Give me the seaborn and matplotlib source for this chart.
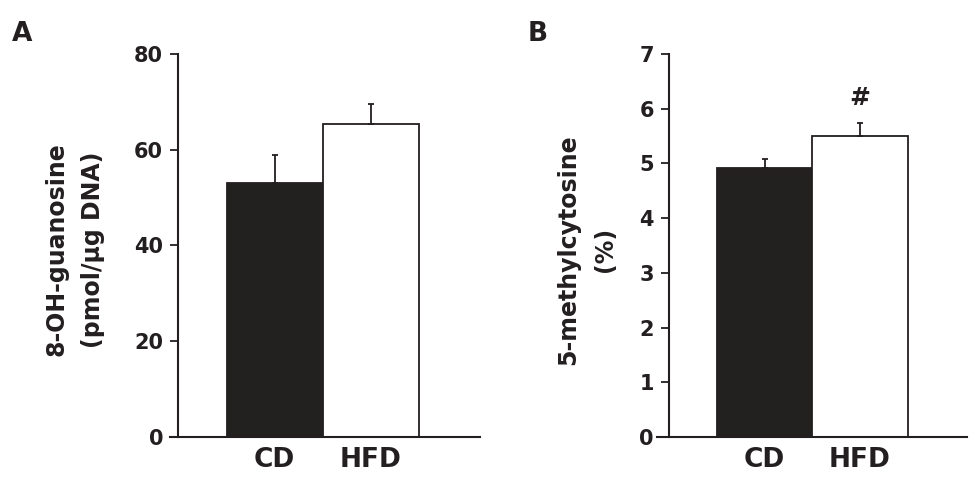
import numpy as np
import pandas as pd
import matplotlib
matplotlib.use('Agg')
import matplotlib.pyplot as plt
import seaborn as sns

groups = ['CD', 'HFD']
ohg_mean = [53.1, 65.4]
ohg_err = [5.7, 4.2]
mc_mean = [4.91, 5.50]
mc_err = [0.17, 0.23]
bar_colors = ['#231f20', 'white']
TXT = '#231f20'

sns.set_style('ticks')
plt.rcParams['font.family'] = ['DejaVu Sans']
plt.rcParams['font.weight'] = 'bold'


def draw_panel(ax, means, errs, ylim, yticks, ylabel, xlim, spine_x, label_x):
    df = pd.DataFrame({'group': groups, 'value': means})
    sns.barplot(data=df, x='group', y='value', hue='group', palette=bar_colors,
                width=1.0, edgecolor=TXT, linewidth=1.3, legend=False, ax=ax,
                errorbar=None)
    # only the upper half of the error bar is shown
    ax.errorbar(np.arange(len(groups)), means,
                yerr=[np.zeros(len(errs)), errs], fmt='none',
                ecolor=TXT, elinewidth=1.3, capsize=2.5, capthick=1.3)
    ax.set_xlim(*xlim)
    ax.set_ylim(*ylim)
    ax.set_yticks(yticks)
    ax.spines['left'].set_position(('data', spine_x))
    ax.spines['left'].set_bounds(ylim[0], ylim[1])
    for s in ['left', 'bottom']:
        ax.spines[s].set_linewidth(1.5)
        ax.spines[s].set_color(TXT)
    sns.despine(ax=ax)
    ax.tick_params(axis='y', direction='out', length=5.8, width=1.3,
                   labelsize=15, colors=TXT, pad=5)
    ax.tick_params(axis='x', length=0, labelsize=19, colors=TXT, pad=7)
    for t in ax.get_xticklabels() + ax.get_yticklabels():
        t.set_fontweight('bold')
    ax.set_xlabel('')
    ax.set_ylabel(ylabel, fontsize=17, fontweight='bold', color=TXT,
                  linespacing=1.65)
    ax.yaxis.set_label_coords(label_x, 0.49)


fig = plt.figure(figsize=(9.75, 4.79), dpi=100)
ax_a = fig.add_axes([0.1744, 0.0877, 0.318, 0.7996])
ax_b = fig.add_axes([0.6738, 0.0877, 0.318, 0.7996])

draw_panel(ax_a, ohg_mean, ohg_err, (0, 80), [0, 20, 40, 60, 80],
           '8-OH-guanosine\n(pmol/\u00b5g DNA)', (-1.089, 2.14), -1.005, -0.21)
draw_panel(ax_b, mc_mean, mc_err, (0, 7), list(range(8)),
           '5-methylcytosine\n(%)', (-1.126, 2.12), -1.0, -0.129)

ax_b.text(1, mc_mean[1] + mc_err[1] + 0.24, '#', ha='center', va='bottom',
          fontsize=18, fontweight='bold', color=TXT)

fig.text(0.012, 0.929, 'A', fontsize=19, fontweight='bold', color=TXT,
         va='center')
fig.text(0.541, 0.929, 'B', fontsize=19, fontweight='bold', color=TXT,
         va='center')

fig.savefig('out.png', dpi=100)
